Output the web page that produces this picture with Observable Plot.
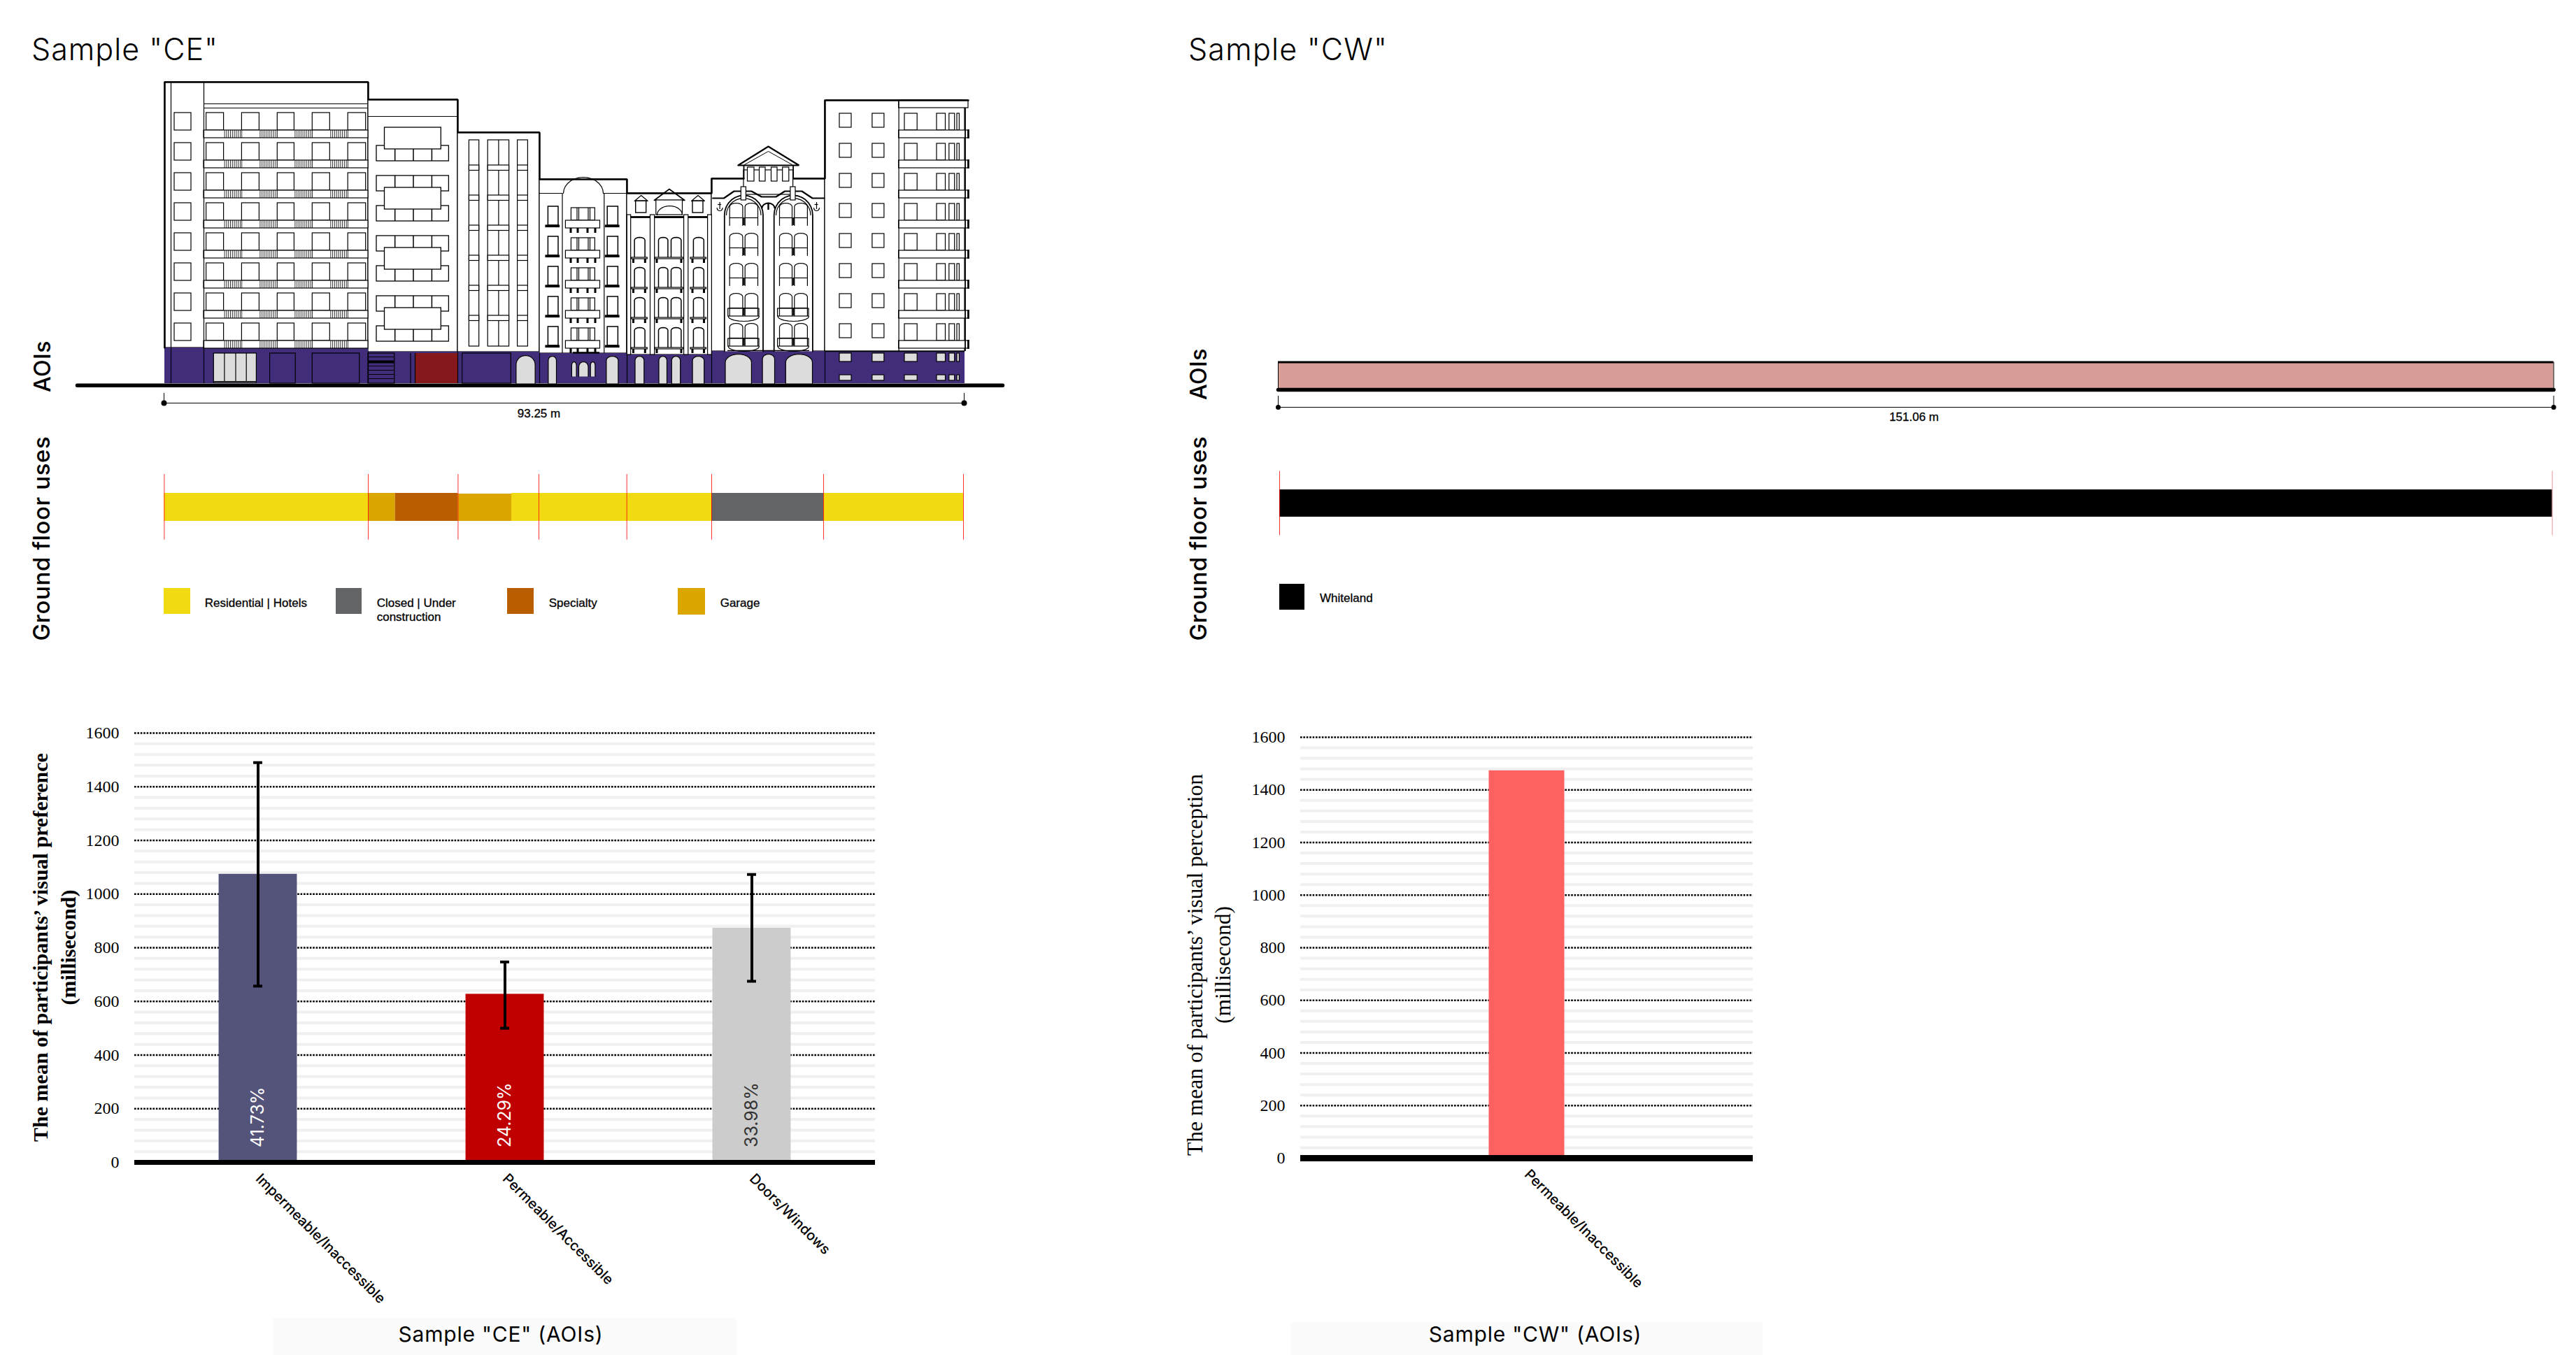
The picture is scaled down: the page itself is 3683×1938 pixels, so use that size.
<!DOCTYPE html>
<html><head><meta charset="utf-8">
<script src="https://cdn.jsdelivr.net/npm/d3@7"></script>
<script src="https://cdn.jsdelivr.net/npm/@observablehq/plot@0.6"></script>
<style>
html,body{margin:0;padding:0;background:#fff}
#root{position:relative;width:3683px;height:1938px;overflow:hidden;background:#fff}
#root>svg{position:absolute;background:transparent;overflow:visible}
.t{position:absolute;white-space:pre;color:#000}
.s{position:absolute}
</style></head><body><div id="root"></div>
<script>
// ---------- chart data ----------
const ceAoi=['Impermeable/Inaccessible','Permeable/Accessible','Doors/Windows'];
const ceMean=[1074,627,873];
const ceLow=[657,500,675];
const ceHigh=[1490,747,1073];
const cePct=['41.73%','24.29%','33.98%'];
const ceFill=['#54547a','#c00000','#cccccc'];
const ceInk=['#ffffff','#ffffff','#333333'];
const cwAoi=['Permeable/Inaccessible'];
const cwMean=[1473];
const cwFill=['#ff6161'];
const majorTicks=[0,200,400,600,800,1000,1200,1400,1600];
const minorTicks=[40,80,120,160,240,280,320,360,440,480,520,560,640,680,720,760,840,880,920,960,1040,1080,1120,1160,1240,1280,1320,1360,1440,1480,1520,1560];
// ground floor uses, metres along the frontage
const ceUseStart=[0,23.8,26.95,34.28,40.53,63.87,76.93];
const ceUseEnd=[23.8,26.95,34.28,40.53,63.87,76.93,93.25];
const ceUseKind=['Residential','Garage','Specialty','Garage','Residential','Closed','Residential'];
const ceParcels=[0,23.8,34.28,43.71,53.97,63.87,76.93,93.25];
const useColor={Residential:'#f2da12',Garage:'#dca600',Specialty:'#b85d00',Closed:'#636466',Whiteland:'#000000'};
const ceLength=93.25, cwLength=151.06;
// ---------- facade elevation (drawing units above/along the ground) ----------
const drops8=[0,43,86,129,172,215,258,301];
const drops5=[0,43,86,129,172];
const drops4=[0,43,86,129];
const roofline=[[1,51],[1,431],[292,431],[292,406],[420,406],[420,359],[537,359],[537,292],[662,292],[662,272],[783,272],[783,293],[829,293]];
const roofline2=[[899.6,293],[945,293],[945,405],[1150,405]];
const wallRects=[[1,292,431,51],[292,420,406,45],[420,537,359,45],[537,662,292,43],[662,783,272,41],[783,945,293,46],[829,899.6,305,270],[945,1145,405,46]];
const purpleRects=[[1,292,51,0],[292,420,45,0],[420,537,45,0],[537,662,43,0],[662,783,41,0],[783,945,46,0],[945,1145,46,0]];
const redRects=[[359,420,43,0]];
const b1Bays=[[60.6,85.6],[111.4,136.4],[162.3,186.4],[212.3,237.3],[263.2,288.7]];
const b1Hatch=[85.6,136.4,186.4,237.3];
const hatchSteps=[1,3.8,6.6,9.4,12.2,15,17.8,20.6,23.4,25.6];
const b2Side=[340,297,254,211,168,125,82];
const b2Bays=[366,280,194,108];
const b2Mull=[330.2,356.5,382.9];
const b3Bands=[312,269,226,183,140,97];
const b5Cols=[[672.6,687.6],[707,720.4],[725,739.4],[756.9,771.8]];
const b5Sills=[[668.5,691.3],[702,743],[753,775.5]];
const b5Ground=[[673.5,686.3],[707.5,719],[725.8,738.2],[755.6,772.2]];
const b6Windows=[[808.7,827.4],[830.7,849],[880,898],[901.3,919.9]];
const b6Tower=[[834.5,844],[851.5,860],[868.5,877],[884.7,893.8]];
const b7Left=[[966,983],[1012.9,1029.9]];
const b7Right=[[1059,1077.2],[1105,1117.5],[1122.8,1130.7],[1134,1137.4]];
const gable=[[784.7,265],[800.4,265],[815,275],[839.9,275],[854.4,267],[875,267],[887.6,275],[912,275],[927,265],[944,265]];

const root=document.getElementById('root');
function put(svg,left,top){svg.style.left=left+'px';svg.style.top=top+'px';root.appendChild(svg);}
function label(text,x,y,o={}){
  const d=document.createElement('div');d.className='t';d.textContent=text;
  d.style.left=x+'px';d.style.top=y+'px';
  d.style.fontFamily=o.font||'Inter';d.style.fontSize=(o.size||20)+'px';d.style.fontWeight=o.weight||400;
  if(o.lh)d.style.lineHeight=o.lh+'px';
  if(o.ls)d.style.letterSpacing=o.ls+'px';
  if(o.stroke)d.style.webkitTextStroke=o.stroke+'px #000';
  d.style.textAlign=o.align||'left';
  const tx=o.center?'translate(-50%,-50%)':'translateY(-50%)';
  d.style.transform=tx+(o.rotate?` rotate(${o.rotate}deg)`:'');
  root.appendChild(d);
}
function swatch(x1,x2,y1,y2,c){
  const d=document.createElement('div');d.className='s';
  d.style.cssText+=`left:${x1}px;top:${y1}px;width:${x2-x1}px;height:${y2-y1}px;background:${c}`;
  root.appendChild(d);
}
// ---------- backgrounds for axis captions ----------
swatch(390,1053,1885,1938,'#fbfbfb');
swatch(1845,2520,1891,1938,'#fbfbfb');

// ---------- bar charts ----------
const SERIF='Liberation Serif', GEO='Inter';
function barChart(o){
  const data=o.cats.map((c,i)=>({c,m:o.mean[i],lo:o.low?.[i],hi:o.high?.[i],p:o.pct?.[i],f:o.fill[i],k:o.ink?.[i]}));
  const marks=[
    Plot.ruleY(minorTicks,{stroke:'#f0f0f0',strokeWidth:4}),
    Plot.ruleY(majorTicks.slice(1),{stroke:'#000',strokeWidth:2.6,strokeDasharray:'2.6,1.8'}),
    Plot.barY(data,{x:'c',y:'m',fill:d=>d.f}),
    Plot.ruleY([0],{stroke:'#000',strokeWidth:o.base}),
    Plot.axisY({ticks:majorTicks,tickSize:0,tickPadding:o.pad,tickFormat:d3.format('d'),fontSize:24,fontFamily:SERIF,label:null,marginLeft:o.ml,stroke:'#000',color:'#000'}),
    Plot.axisX({tickRotate:45,tickSize:0,tickPadding:o.xpad,fontSize:20,fontFamily:GEO,fontWeight:500,label:null,color:'#000'})
  ];
  if(o.low){
    marks.push(
      Plot.ruleX(data,{x:'c',y1:'lo',y2:'hi',stroke:'#000',strokeWidth:4}),
      Plot.tickY(data,{x:'c',y:'hi',stroke:'#000',strokeWidth:4,insetLeft:49.5,insetRight:49.5}),
      Plot.tickY(data,{x:'c',y:'lo',stroke:'#000',strokeWidth:4,insetLeft:49.5,insetRight:49.5}),
      Plot.text(data,{x:'c',y:()=>56,text:'p',rotate:-90,textAnchor:'start',fill:d=>d.k,fontSize:25,fontFamily:'Inter'})
    );
  }
  return Plot.plot({width:o.w,height:900,marginLeft:o.ml,marginRight:o.mr,marginTop:o.mt,marginBottom:o.mb,
    color:{type:'identity'},
    x:{domain:o.cats,paddingInner:o.pi,paddingOuter:o.pi/2,round:false,axis:null,label:null},
    y:{domain:[0,1600],label:null},marks});
}
put(barChart({cats:ceAoi,mean:ceMean,low:ceLow,high:ceHigh,pct:cePct,fill:ceFill,ink:ceInk,w:1300,ml:192,mr:49,mt:48,mb:238,pi:.683,base:7,pad:22,xpad:20}),0,1000);
put(barChart({cats:cwAoi,mean:cwMean,fill:cwFill,w:900,ml:179,mr:74,mt:54,mb:244,pi:.833,base:9,pad:22,xpad:20}),1680,1000);

// ---------- ground floor use strips ----------
const ceUses=ceUseStart.map((s,i)=>({s,e:ceUseEnd[i],k:ceUseKind[i]}));
put(Plot.plot({width:1500,height:130,marginLeft:234.4,marginRight:123,marginTop:18,marginBottom:18.3,
  color:{type:'identity'},x:{domain:[0,ceLength],axis:null},
  marks:[
    Plot.barX(ceUses.filter((d,i)=>i!==3),{x1:'s',x2:'e',fill:d=>useColor[d.k],insetTop:27,insetBottom:26.7}),
    Plot.barX(ceUses.filter((d,i)=>i===3),{x1:'s',x2:'e',fill:d=>useColor[d.k],insetTop:28,insetBottom:26.7}),
    Plot.ruleX(ceParcels,{stroke:'#ff0000',strokeWidth:.8})
  ]}),0,660);
put(Plot.plot({width:2000,height:130,marginLeft:129,marginRight:51.4,marginTop:13.6,marginBottom:24.5,
  color:{type:'identity'},x:{domain:[0,cwLength],axis:null},
  marks:[
    Plot.barX([{s:0,e:cwLength}],{x1:'s',x2:'e',fill:useColor.Whiteland,insetTop:26.4,insetBottom:26.5}),
    Plot.ruleX([0],{stroke:'#ff0000',strokeWidth:.8}),
    Plot.ruleX([cwLength],{stroke:'#d77',strokeWidth:.8})
  ]}),1700,660);

// ---------- CW AOI band ----------
put(Plot.plot({width:1983,height:120,marginLeft:127,marginRight:32.4,marginTop:0,marginBottom:0,
  x:{domain:[0,cwLength],axis:null},y:{domain:[0,67],range:[67,0],axis:null},
  marks:[
    Plot.rectY([{s:0,e:cwLength}],{x1:'s',x2:'e',y1:()=>0,y2:()=>39.5,fill:'#d89d96'}),
    Plot.ruleX([0,cwLength],{y1:0,y2:39.5,stroke:'#000',strokeWidth:1}),
    Plot.ruleY([39.5],{stroke:'#000',strokeWidth:3}),
    Plot.line([[0,0],[cwLength,0]],{x:d=>d[0],y:d=>d[1],stroke:'#000',strokeWidth:5.5,strokeLinecap:'round'}),
    Plot.ruleX([0,cwLength],{y1:-9,y2:-25,stroke:'#000',strokeWidth:1}),
    Plot.ruleY([-25],{stroke:'#000',strokeWidth:1}),
    Plot.dot([0,cwLength],{x:d=>d,y:()=>-25,r:3.5,fill:'#000'}),
    Plot.text(['151.06 m'],{x:()=>cwLength*.4985,y:()=>-39,text:d=>d,fontSize:17,fontFamily:'Liberation Sans',fill:'#000',stroke:'#000',strokeWidth:.3})
  ]}),1700,490);

// ---------- CE facade ----------
const box=([a,b,t,u])=>({a,b,t,u});
const archPts=(id,x1,x2,bottom,spring,top,n=14)=>{
  const pts=[{id,x:x1,y:bottom}];
  for(let i=0;i<=n;i++){const r=Math.PI*(1-i/n);pts.push({id,x:(x1+x2)/2+(x2-x1)/2*Math.cos(r),y:spring+(top-spring)*Math.sin(r)});}
  pts.push({id,x:x2,y:bottom});return pts;
};
const R=(arr,o={})=>Plot.rect(arr.map(box),{x1:'a',x2:'b',y1:'u',y2:'t',fill:'#fff',stroke:'#000',strokeWidth:1.2,...o});
const VL=(arr,o={})=>Plot.ruleX(arr,{x:d=>d[0],y1:d=>d[1],y2:d=>d[2],stroke:'#000',strokeWidth:1.2,...o});
const HL=(arr,o={})=>Plot.ruleY(arr,{y:d=>d[2],x1:d=>d[0],x2:d=>d[1],stroke:'#000',strokeWidth:1.2,...o});
const L=(arr,o={})=>Plot.line(arr,{x:'x',y:'y',z:'id',stroke:'#000',strokeWidth:1.2,...o});
const P=(pairs,o={})=>Plot.line(pairs,{x:d=>d[0],y:d=>d[1],stroke:'#000',strokeWidth:2.5,strokeLinejoin:'miter',...o});
const gray='#dcdcdc', purple='#412d7a', darkred='#84181a';
let aid=0; const nid=()=>'a'+(++aid);

const b1Left=drops8.map(d=>[15,39,387-d,362-d]);
const b1Win=drops8.flatMap(d=>b1Bays.map(([a,b])=>[a,b,387-d,362-d]));
const b1Balc=drops8.map(d=>[57,292,362-d,351-d]);
const b1HatchLines=drops8.flatMap(d=>b1Hatch.flatMap(p=>hatchSteps.map(s=>[p+s,362-d,351-d])));
const b2SideRects=b2Side.map(t=>[304,407.4,t,t-22]);
const b2SideMull=b2Side.flatMap(t=>b2Mull.map(x=>[x,t,t-22]));
const b2BayRects=b2Bays.map(t=>[315.5,396.3,t,t-31]);
const b3Strips=[[436.4,450.7,348,53],[463.2,493.6,348,53],[505.6,520.4,348,53]];
const b3BandRects=b3Bands.flatMap(t=>[[436.4,450.7,t,t-7.5],[463.2,493.6,t,t-7.5],[505.6,520.4,t,t-7.5]]);
const b4Side=drops5.flatMap(d=>[[549.4,564,253-d,226-d],[634.2,649.4,253-d,226-d]]);
const b4Sills=drops5.flatMap(d=>[[546,565.5,226-d,223.5-d],[631.5,651,226-d,223.5-d]]);
const b4Centre=drops5.map(d=>[582.4,616.4,251-d,233-d]);
const b4CentreV=drops5.flatMap(d=>[590.5,593,606.5,609].map(x=>[x,251-d,233-d]));
const b4Balc=drops5.map(d=>[574.4,623.5,233-d,222-d]);
const b4Brack=drops5.flatMap(d=>[582,592,606,617].map(x=>[x-1.5,x+1.5,222-d,215-d]));
const b5Win=drops4.flatMap(d=>b5Cols.flatMap(([a,b])=>archPts(nid(),a,b,180-d,205-d,209-d,8)));
const b5SillRects=drops4.flatMap(d=>b5Sills.map(([a,b])=>[a,b,180-d,178-d]));
const b5Brack=drops4.flatMap(d=>b5Sills.flatMap(([a,b])=>[[a+1.5,a+4.5,178-d,172-d],[b-4.5,b-1.5,178-d,172-d]]));
const b6Wins=drops5.flatMap(d=>b6Windows.flatMap(([a,b])=>archPts(nid(),a,b,226-d,253-d,258-d,8)));
const b6Lines=drops5.flatMap(d=>b6Windows.map(([a,b])=>[a,b,237-d]));
const b6Balc=[0,43].flatMap(d=>[[806.7,851],[877.6,922]].map(([a,b])=>[a,b,107-d,96-d]));
const b6BalcBot=[0,43].flatMap(d=>[[806.7,851],[877.6,922]].flatMap(([a,b])=>archPts(nid(),a,b,96-d,96-d,89-d,10)));
const b7LeftWin=drops8.flatMap(d=>b7Left.map(([a,b])=>[a,b,386-d,366-d]));
const b7Win=drops8.flatMap(d=>b7Right.map(([a,b])=>[a,b,386-d,362-d]));
const b7Balc=drops8.map(d=>[1050.6,1150,362-d,351-d]);
const b7Gray=[...b7Left,...b7Right].flatMap(([a,b])=>[[a,b,43,31],[a,b,12,4]]);
const groundArches=[
  ...[[549.4,561],[632.4,649.4]].flatMap(([a,b])=>archPts(nid(),a,b,0,33,39,10)),
  ...archPts(nid(),503.4,530.6,0,27,40),
  ...b5Ground.flatMap(([a,b])=>archPts(nid(),a,b,0,33,39,10)),
  ...archPts(nid(),802.5,839.9,0,30,42),...archPts(nid(),855.6,873,0,35,42,10),...archPts(nid(),888.8,927,0,30,42)
];
const smallArches=[[582.9,589.6,26],[593,606.5,24],[609.7,616.4,26]].flatMap(([a,b,s])=>archPts(nid(),a,b,10,s,31,8));
const anchors=[794.6,933];

put(Plot.plot({width:1500,height:520,margin:0,
  x:{domain:[0,1145],range:[234,1379],axis:null},
  y:{domain:[0,448],range:[448,0],axis:null},
  marks:[
    R(wallRects),
    R(purpleRects,{fill:purple,stroke:'none'}),
    R(redRects,{fill:darkred,stroke:'none'}),
    // storey details, building 1
    HL([[57,292,400],[57,292,394]]),
    R(b1Left),R(b1Win),R(b1Balc),VL(b1HatchLines,{strokeWidth:.8}),
    VL([[10,431,0],[57,431,0]]),
    // building 2
    HL([[292,420,382]]),
    R(b2SideRects,{strokeWidth:1.3}),VL(b2SideMull,{strokeWidth:1.5}),R(b2BayRects,{strokeWidth:1.3}),
    // building 3
    R(b3Strips),VL([[478.4,348,53]]),R(b3BandRects),
    // building 4
    L(archPts(nid(),571,628,272,272,295),{fill:'#fff'}),
    HL([[537,570,272],[629,662,272]]),
    VL([[569.5,272,43],[629.3,272,43]]),
    R(b4Side,{strokeWidth:1.5}),R(b4Sills,{fill:'#000'}),
    R(b4Centre),VL(b4CentreV),R(b4Balc),R(b4Brack,{fill:'#000',stroke:'none'}),
    HL([[585,623,44]],{strokeWidth:2.6}),
    // building 5
    L([{id:'r5',x:700.9,y:262},{id:'r5',x:722.4,y:278},{id:'r5',x:744.4,y:262},{id:'r5',x:700.9,y:262}],{fill:'#fff',strokeWidth:1.6}),
    R([[703.8,741.5,262,241]]),L(archPts(nid(),705,741,241,241,254)),
    ...[[674.7,689.7],[756,771]].flatMap(([a,b])=>[
      R([[a,b,261,244]],{strokeWidth:1.4}),
      L([{id:'x',x:a-2,y:261},{id:'x',x:(a+b)/2,y:269},{id:'x',x:b+2,y:261},{id:'x',x:a-2,y:261}],{strokeWidth:1.2})
    ]),
    R([[662.3,667.7,241,41],[695.5,701.7,241,41],[743.6,749.8,241,41],[777.6,783.4,241,41]]),
    HL([[667.7,695.5,238],[701.7,743.6,238],[749.8,777.6,238]],{strokeWidth:2.8}),
    L(b5Win,{fill:'#fff',strokeWidth:1.5}),
    R(b5SillRects),R(b5Brack,{fill:'#000',stroke:'none'}),
    // building 6
    L(archPts(nid(),801.3,856.5,46,241,269),{fill:'#fff',strokeWidth:1.8}),
    L(archPts(nid(),872.2,927.4,46,241,269),{fill:'#fff',strokeWidth:1.8}),
    L(archPts(nid(),804,853.5,241,241,265)),L(archPts(nid(),875,924.5,241,241,265)),
    L(b6Wins,{strokeWidth:1.2}),HL(b6Lines),
    VL(drops5.flatMap(d=>[[829,237-d,226-d],[900,237-d,226-d]]),{strokeWidth:2.4}),
    R(b6Balc,{fill:'none'}),L(b6BalcBot),
    HL([[806,923,47]],{strokeWidth:1.6}),
    P(gable,{strokeWidth:2.2,strokeLinejoin:'round'}),
    R(b6Tower.map(([a,b])=>[a,b,309,289])),
    R([[825.3,832.4,281,262],[895.9,903,281,262]]),
    VL([[829,312,293],[899.6,312,293]],{strokeWidth:1.8}),
    P([[820.8,312],[864,339],[907.9,312],[820.8,312]],{strokeWidth:2.2,fill:'#fff'}),
    P([[830,313],[864,332],[898,313]],{strokeWidth:1}),
    // anchors and crest
    VL(anchors.map(x=>[x,259,249])),HL(anchors.map(x=>[x-2.5,x+2.5,256])),
    L(anchors.flatMap(x=>archPts(nid(),x-4,x+4,251,251,247,6))),
    L(archPts(nid(),855,873,251,251,258,8),{strokeWidth:2}),VL([[864,258,248]],{strokeWidth:2.4}),
    // building 7
    R(b7LeftWin),R(b7Win),R(b7Balc),
    R([[1050.6,1150,405,394]]),
    VL([[1050.6,405,46]]),
    VL([[1145.5,394,46]],{strokeWidth:1.8}),
    VL(drops8.map(d=>[1150,363-d,350-d]),{strokeWidth:2.6}),
    HL([[945,1145,46]],{strokeWidth:1.4}),
    // ground floor fittings
    R([[71.3,132.4,43,1]],{fill:gray}),
    VL([[86.4,43,3],[102.5,43,3],[117.7,43,3]]),HL([[71.3,132.4,3]]),
    R([[151.6,188.2,43,0],[212.3,279.8,43,0]],{fill:'none'}),
    R([[292,329.8,43,0]],{fill:'none'}),
    HL([[292,329.8,38],[292,329.8,25],[292,329.8,19],[292,329.8,13],[292,329.8,7]]),
    HL([[292,329.8,31]],{strokeWidth:4}),
    VL([[352.5,43,0],[359,43,0],[292,45,0],[420,45,0],[537,43,0],[662,41,0],[783,46,0],[945,46,0]]),
    R([[426.6,496.3,43,0]],{fill:'none'}),
    L(groundArches,{fill:gray}),
    L(smallArches,{fill:gray}),
    R(b7Gray,{fill:gray}),
    // silhouette
    P(roofline),P(roofline2),
    // ground line and dimension
    Plot.line([[-124,-2.7],[1199,-2.7]],{x:d=>d[0],y:d=>d[1],stroke:'#000',strokeWidth:5.5,strokeLinecap:'round'}),
    Plot.ruleX([0,1144],{y1:-14,y2:-28,stroke:'#000',strokeWidth:1}),
    Plot.ruleY([-28],{x1:0,x2:1144,stroke:'#000',strokeWidth:1}),
    Plot.dot([0,1144],{x:d=>d,y:()=>-28,r:4,fill:'#000'}),
    Plot.text(['93.25 m'],{x:()=>536,y:()=>-43,text:d=>d,fontSize:17,fontFamily:'Liberation Sans',fill:'#000',stroke:'#000',strokeWidth:.3})
  ]}),0,100);

// ---------- text ----------
label('Sample "CE"',45,70,{size:43,weight:300,ls:1});
label('Sample "CW"',1699,70,{size:43,weight:300,ls:1.2});
label('AOIs',60,524,{size:32,weight:500,center:1,rotate:-90,ls:.5});
label('Ground floor uses',59,770,{size:33,weight:500,center:1,rotate:-90,ls:.6});
label('AOIs',1713,535,{size:32,weight:500,center:1,rotate:-90,ls:.5});
label('Ground floor uses',1713,770,{size:33,weight:500,center:1,rotate:-90,ls:.6});
label('Sample "CE" (AOIs)',716,1908,{size:30,weight:400,center:1,ls:.8});
label('Sample "CW" (AOIs)',2195,1908,{size:30,weight:400,center:1,ls:.8});
label("The mean of participants\u2019 visual preference\n(millisecond)",78,1355,{font:SERIF,size:30,weight:700,lh:40,align:'center',center:1,rotate:-90});
label("The mean of participants\u2019 visual perception\n(millisecond)",1729,1380,{font:SERIF,size:31.5,weight:400,lh:40,align:'center',center:1,rotate:-90});
// ---------- legends ----------
const LF={font:'Liberation Sans',size:17,stroke:.3};
swatch(234.4,271.8,841,877.7,useColor.Residential);label('Residential | Hotels',292.8,863,LF);
swatch(480.4,516.7,841,877.7,useColor.Closed);label('Closed | Under',538.7,863,LF);label('construction',538.7,883,LF);
swatch(725.4,762.7,841,877.7,useColor.Specialty);label('Specialty',784.7,863,LF);
swatch(969.4,1007.6,841,879,useColor.Garage);label('Garage',1029.7,863,LF);
swatch(1829.4,1865.2,835,872,useColor.Whiteland);label('Whiteland',1887,856,LF);
</script></body></html>
